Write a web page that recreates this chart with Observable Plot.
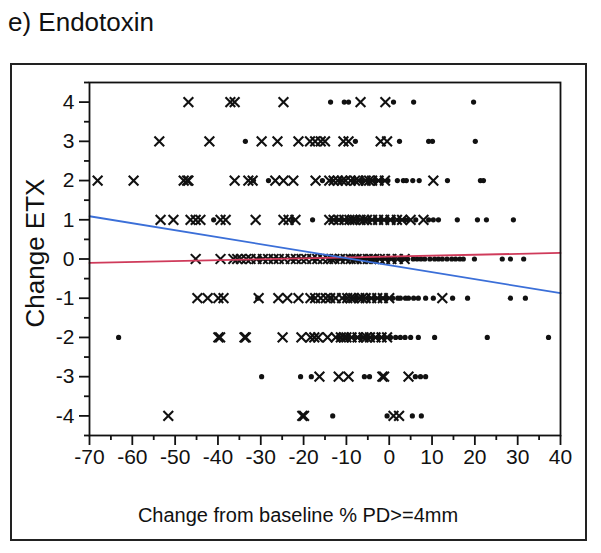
<!DOCTYPE html>
<html><head><meta charset="utf-8">
<script src="https://cdn.jsdelivr.net/npm/d3@7"></script>
<script src="https://cdn.jsdelivr.net/npm/@observablehq/plot@0.6"></script>
<style>
body{margin:0;background:#fff;font-family:"Liberation Sans",Arial,sans-serif;}
#wrap{position:relative;width:601px;height:553px;overflow:hidden;}
#title{position:absolute;left:8px;top:7px;font-size:26px;color:#111;}
#box{position:absolute;left:10px;top:63px;width:573px;height:474px;border:2px solid #222;}
#chart{position:absolute;left:0;top:0;}
</style></head><body>
<div id="wrap"><div id="title">e) Endotoxin</div><div id="box"></div><div id="chart"></div></div>
<script>
const levels = [4, 3, 2, 1, 0, -1, -2, -3, -4];
const crossX = [
  [-46.9, -37.1, -36.1, -24.7, -6.7, -0.9],
  [-53.7, -42.0, -29.8, -26.1, -21.2, -18.5, -17.3, -16.0, -15.0, -10.7, -9.5, -2.0, -0.5],
  [-68.1, -59.7, -48.0, -47.2, -46.9, -36.1, -32.9, -31.9, -26.6, -24.7, -22.4, -17.2, -14.0, -13.0, -12.0, -11.0, -10.2, -9.0, -8.0, -7.2, -5.5, -4.7, -4.0, -2.5, -1.0, 10.3],
  [-53.4, -50.4, -46.4, -45.2, -44.1, -39.4, -38.2, -31.2, -24.7, -23.5, -21.9, -14.0, -13.0, -11.8, -10.5, -9.3, -8.6, -8.0, -6.7, -5.9, -5.2, -4.0, -2.6, -1.2, 0.3, 1.8, 3.0, 5.0, 8.0],
  [-45.2, -39.4, -36.4, -35.5, -34.6, -33.4, -32.4, -31.0, -29.5, -28.3, -27.0, -25.8, -24.5, -23.0, -21.8, -20.5, -19.4, -18.0, -16.8, -15.5, -14.3, -13.5, -12.8, -11.5, -10.2, -9.0, -8.2, -7.6, -6.4, -5.0, -4.2, -3.5, -2.2, -1.0, 0.5, 2.0, 3.6],
  [-44.8, -42.4, -39.9, -38.7, -30.5, -25.9, -23.8, -21.2, -18.4, -17.3, -16.0, -14.8, -13.8, -12.5, -11.0, -9.8, -9.0, -8.4, -7.0, -6.3, -5.5, -4.2, -2.8, -1.5, 0.0, 12.4],
  [-39.9, -39.5, -33.8, -33.5, -24.9, -20.5, -18.4, -17.5, -16.6, -14.4, -12.5, -11.3, -10.6, -10.0, -8.8, -7.4, -6.0, -5.3, -4.5, -3.2, -1.8, -0.5],
  [-16.3, -11.8, -9.5, -1.6, -1.2, 4.5],
  [-51.6, -20.3, -19.9, 1.0, 2.3]
];
const dotX = [
  [-13.7, -10.5, -9.5, 1.0, 5.7, 19.7],
  [-33.6, -7.9, 2.4, 9.2, 10.1, 20.1],
  [-31.7, -28.2, -15.6, -13.5, -11.5, -8.3, -6.4, -4.8, -3.2, -1.8, -0.3, 1.9, 3.3, 4.0, 5.5, 7.0, 13.6, 21.3, 22.0],
  [-41.0, -22.5, -17.9, -13.5, -12.2, -10.9, -9.8, -8.5, -7.2, -6.0, -4.6, -3.3, -2.0, -0.6, 0.8, 2.3, 3.6, 4.4, 6.2, 9.2, 10.3, 11.5, 15.9, 20.6, 22.7, 29.0],
  [-30.2, -26.5, -22.4, -17.2, -13.5, -12.0, -10.8, -9.6, -8.3, -7.0, -5.8, -4.4, -3.0, -1.6, -0.3, 1.0, 2.5, 3.2, 4.3, 5.6, 6.5, 7.4, 8.3, 9.5, 10.6, 11.5, 12.4, 13.5, 14.6, 15.5, 16.5, 17.3, 19.9, 26.4, 28.3, 31.4],
  [-30.7, -17.8, -13.6, -10.3, -7.8, -6.2, -4.8, -3.4, -2.0, -0.7, 0.8, 2.0, 2.6, 3.8, 4.5, 5.7, 6.8, 8.5, 10.3, 14.8, 18.3, 28.3, 31.8],
  [-63.2, -11.8, -9.4, -8.0, -6.8, -5.2, -3.8, -2.5, -1.2, 0.3, 1.5, 2.6, 3.7, 5.0, 6.8, 10.6, 22.9, 37.2],
  [-29.8, -20.7, -18.2, -5.8, -4.6, 6.1, 7.3, 8.5],
  [-13.2, -0.5, 5.4, 7.5]
];
const fitX = [-70, 40];
const blueFitY = [1.09, -0.87];
const redFitY = [-0.1, 0.155];
const xTicks = [-70, -60, -50, -40, -30, -20, -10, 0, 10, 20, 30, 40];
const xMinorTicks = [-65, -55, -45, -35, -25, -15, -5, 5, 15, 25, 35];
const yTicks = [-4, -3, -2, -1, 0, 1, 2, 3, 4];
const yMinorTicks = [-4.5, -3.5, -2.5, -1.5, -0.5, 0.5, 1.5, 2.5, 3.5, 4.5];
const xLabel = "Change from baseline % PD>=4mm";
const yLabel = "Change ETX";

const crosses = levels.flatMap((lv, i) => crossX[i].map(x => ({x, y: lv})));
const dots = levels.flatMap((lv, i) => dotX[i].map(x => ({x, y: lv})));
const blueFit = fitX.map((x, i) => ({x, y: blueFitY[i]}));
const redFit = fitX.map((x, i) => ({x, y: redFitY[i]}));
const fmt = d => String(d);

const chart = Plot.plot({
  width: 601, height: 553,
  marginLeft: 89, marginRight: 41, marginTop: 82, marginBottom: 118,
  style: {fontFamily: '"Liberation Sans", Arial, sans-serif', color: "#111", background: "transparent"},
  x: {domain: [-70, 40]},
  y: {domain: [-4.5, 4.5]},
  marks: [
    Plot.dot(crosses, {x: "x", y: "y", symbol: "times", r: 4.5, stroke: "#111", strokeWidth: 2.1}),
    Plot.dot(dots, {x: "x", y: "y", r: 2.6, fill: "#111", stroke: "none"}),
    Plot.line(redFit, {x: "x", y: "y", stroke: "#cf3a5a", strokeWidth: 1.8}),
    Plot.line(blueFit, {x: "x", y: "y", stroke: "#3b6fd8", strokeWidth: 1.8}),
    Plot.frame({stroke: "#111", strokeWidth: 1.8}),
    Plot.axisX({ticks: xTicks, tickFormat: fmt, tickSize: 10, tickPadding: 4, fontSize: 21, label: null, strokeWidth: 1.8, stroke: "#111"}),
    Plot.axisX({ticks: xMinorTicks, tickSize: 5, text: null, label: null, strokeWidth: 1.8, stroke: "#111"}),
    Plot.axisY({ticks: yTicks, tickFormat: fmt, tickSize: 10, tickPadding: 5, fontSize: 21, label: null, strokeWidth: 1.8, stroke: "#111"}),
    Plot.axisY({ticks: yMinorTicks, tickSize: 5, text: null, label: null, strokeWidth: 1.8, stroke: "#111"}),
    Plot.text([xLabel], {frameAnchor: "bottom", lineAnchor: "middle", textAnchor: "middle", dx: -27, dy: 80, fontSize: 20, fill: "#111"}),
    Plot.text([yLabel], {frameAnchor: "left", lineAnchor: "middle", textAnchor: "middle", dx: -54, dy: -6, rotate: -90, fontSize: 26, fill: "#111"})
  ]
});
document.getElementById("chart").appendChild(chart);
</script>
</body></html>
